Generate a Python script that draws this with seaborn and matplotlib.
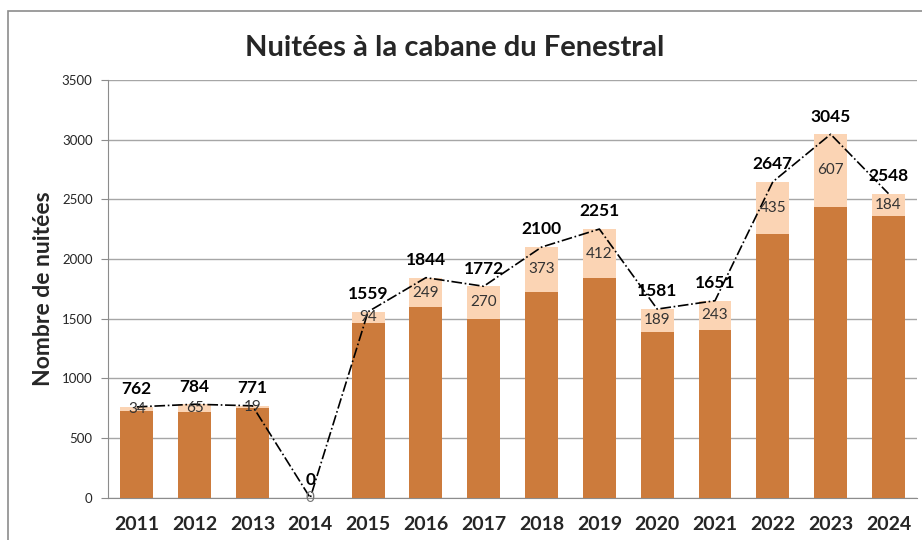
import pandas as pd
import matplotlib.pyplot as plt
import seaborn as sns
from matplotlib.patches import Rectangle

# Data
years = ["2011", "2012", "2013", "2014", "2015", "2016", "2017",
         "2018", "2019", "2020", "2021", "2022", "2023", "2024"]
totals = [762, 784, 771, 0, 1559, 1844, 1772, 2100, 2251, 1581, 1651, 2647, 3045, 2548]
top_part = [34, 65, 19, 0, 94, 249, 270, 373, 412, 189, 243, 435, 607, 184]
bottom_part = [t - p for t, p in zip(totals, top_part)]

df = pd.DataFrame({"Année": years, "Total": totals, "Haut": top_part, "Bas": bottom_part})

sns.set_style("white")
plt.rcParams["font.family"] = ["Lato", "DejaVu Sans"]

fig = plt.figure(figsize=(9.22, 5.4), dpi=100)
ax = fig.add_axes([0.117, 0.078, 0.878, 0.774])

# frame around the chart
fig.patches.append(Rectangle((8 / 922, -0.1), 1.2, (540 - 11) / 540 + 0.1,
                             transform=fig.transFigure, fill=False,
                             edgecolor="#8c8c8c", linewidth=1.2))

# stacked bars
sns.barplot(data=df, x="Année", y="Total", color="#fbd4b4", width=0.57,
            saturation=1, linewidth=0, ax=ax, zorder=2)
sns.barplot(data=df, x="Année", y="Bas", color="#cc7b3c", width=0.57,
            saturation=1, linewidth=0, ax=ax, zorder=3)

pos = list(range(len(years)))
ax.plot(pos, df["Total"], color="black", linestyle="-.", linewidth=1.2, zorder=4)

# labels
for i in pos:
    ax.annotate(str(totals[i]), (i, totals[i]), xytext=(0, 7), textcoords="offset points",
                ha="center", va="bottom", fontsize=12.5, fontweight="bold", color="black")
    ax.text(i, bottom_part[i] + top_part[i] / 2, str(top_part[i]), ha="center", va="center",
            fontsize=11, color="#333333" if top_part[i] else "#777777", zorder=5)

ax.set_ylim(0, 3500)
ax.set_xlim(-0.5, 13.5)
ax.set_yticks(range(0, 3501, 500))
ax.yaxis.grid(True, color="#a6a6a6", linewidth=1)
ax.set_axisbelow(True)
for s in ["top", "right"]:
    ax.spines[s].set_visible(False)
for s in ["left", "bottom"]:
    ax.spines[s].set_color("#8c8c8c")
ax.tick_params(axis="y", length=5, color="#8c8c8c", labelsize=9.5, pad=6, left=True)
ax.tick_params(axis="x", length=0, labelsize=14, pad=13)
for lab in ax.get_xticklabels():
    lab.set_fontweight("bold")

ax.set_xlabel("")
ax.set_ylabel("Nombre de nuitées", fontsize=16.5, fontweight="bold", labelpad=6)
fig.text(0.493, 0.912, "Nuitées à la cabane du Fenestral", ha="center", va="center",
         fontsize=21, fontweight="bold")

plt.savefig("out.png", dpi=100)
plt.close()
